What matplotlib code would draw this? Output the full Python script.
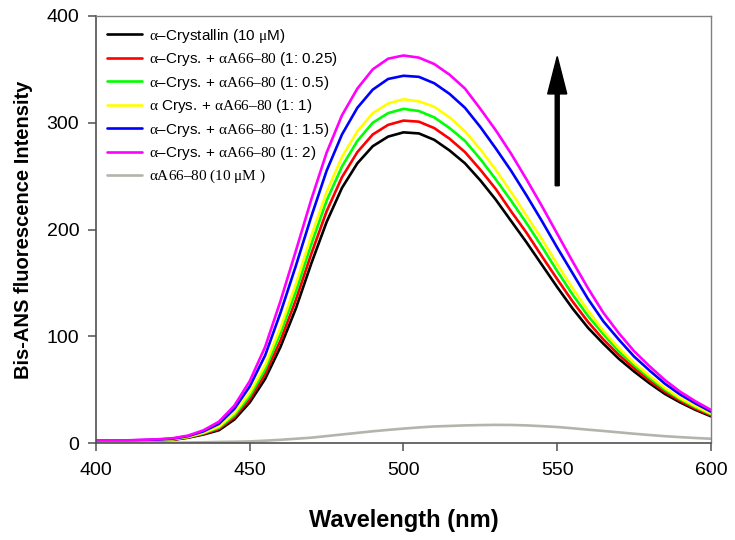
import matplotlib
matplotlib.use('Agg')
import matplotlib.pyplot as plt

plt.rcParams['font.family'] = ['Liberation Sans', 'DejaVu Sans']
plt.rcParams['mathtext.fontset'] = 'custom'
plt.rcParams['mathtext.rm'] = 'Liberation Serif'
plt.rcParams['mathtext.it'] = 'Liberation Serif:italic'

# wavelength grid (nm), read every 5 nm
wavelength = [400, 405, 410, 415, 420, 425, 430, 435, 440, 445,
              450, 455, 460, 465, 470, 475, 480, 485, 490, 495,
              500, 505, 510, 515, 520, 525, 530, 535, 540, 545,
              550, 555, 560, 565, 570, 575, 580, 585, 590, 595, 600]

crystallin = [2, 2, 2, 2, 2.5, 3, 5, 8, 12, 22,
              38, 60, 90, 126, 168, 207, 239, 262, 278, 287,
              291, 290, 284, 274, 262, 246, 228, 208, 188, 167,
              146, 126, 108, 93, 79, 67, 56, 46, 38, 31, 25]
ratio_025 = [2.1, 2.1, 2.1, 2.2, 2.7, 3.2, 5.3, 8.6, 13.2, 24,
             41, 64.5, 96, 134, 177, 217, 249, 272.5, 289, 298,
             302, 301, 295, 285, 272.5, 256, 238, 217, 197, 175,
             153.5, 132.6, 113.5, 97, 82.6, 70, 58.4, 48, 39.5, 32, 26]
ratio_05 = [2.2, 2.2, 2.2, 2.3, 2.8, 3.5, 5.6, 9.2, 14.4, 26,
            44, 69, 103, 142, 186, 227, 259, 283, 300, 309,
            313, 311, 305, 295, 283, 266, 247, 227, 206, 184,
            161, 139, 119, 102, 86, 73, 61, 50, 41, 33.4, 27]
ratio_1 = [2.2, 2.2, 2.2, 2.4, 2.9, 3.6, 5.9, 9.7, 15.4, 28,
           47, 73, 108, 149, 194, 235, 268, 292, 309, 318,
           322, 320, 315, 305, 292, 275, 256, 235, 213, 191,
           167.5, 145, 124, 105, 89, 75, 63, 51.6, 42, 34.4, 27.6]
ratio_15 = [2.4, 2.4, 2.4, 2.7, 3.2, 4.1, 6.5, 11, 18, 32,
            53, 82, 122, 166, 212, 255, 289, 314, 331, 341,
            344, 343, 337, 327, 314, 296, 276, 255, 232, 208,
            183, 159, 135, 114, 97, 81, 68, 55.6, 45.4, 37, 29.4]
ratio_2 = [2.5, 2.5, 2.5, 3, 3.5, 4.5, 7, 12, 20, 35,
           58, 90, 133, 180, 228, 272, 307, 332, 350, 360,
           363, 361, 355, 345, 332, 313, 293, 271, 247, 222,
           196, 170, 145, 122, 103, 86, 72, 59, 48, 39, 31]
peptide = [0, 0, 0, 0.1, 0.2, 0.3, 0.5, 0.7, 1, 1.2,
           1.5, 2.2, 3, 4, 5, 6.5, 8, 9.5, 11, 12.3,
           13.5, 14.6, 15.5, 16, 16.5, 16.8, 17, 16.9, 16.5, 15.8,
           15, 13.8, 12.5, 11.3, 10, 8.7, 7.5, 6.4, 5.5, 4.7, 4]

series = [crystallin, ratio_025, ratio_05, ratio_1, ratio_15, ratio_2, peptide]
labels = [
    r'$\mathrm{\alpha}$–Crystallin (10 $\mathrm{\mu}$M)',
    r'$\mathrm{\alpha}$–Crys. + $\mathrm{\alpha A66–80}$ (1: 0.25)',
    r'$\mathrm{\alpha}$–Crys. + $\mathrm{\alpha A66–80}$ (1: 0.5)',
    r'$\mathrm{\alpha}$ Crys. + $\mathrm{\alpha A66–80}$ (1: 1)',
    r'$\mathrm{\alpha}$–Crys. + $\mathrm{\alpha A66–80}$ (1: 1.5)',
    r'$\mathrm{\alpha}$–Crys. + $\mathrm{\alpha A66–80}$ (1: 2)',
    r'$\mathrm{\alpha A66–80\ (10\ \mu M\ )}$',
]
colors = ['#000000', '#ff0000', '#00ff00', '#ffff00', '#0000ff', '#ff00ff', '#b4b4ac']

# arrow showing increase of intensity
arrow_x = 550
arrow_y0, arrow_y1 = 241, 362

fig = plt.figure(figsize=(7.35, 5.4), dpi=100)
ax = fig.add_axes([0.1306, 0.1796, 0.8367, 0.7908])

for values, label, color in zip(series, labels, colors):
    ax.plot(wavelength, values, color=color, lw=1.9, label=label,
            solid_joinstyle='round', solid_capstyle='round')

ax.arrow(arrow_x, arrow_y0, 0, arrow_y1 - arrow_y0, width=1.3, head_width=6.2,
         head_length=35, length_includes_head=True, color='black')

ax.set_xlim(400, 600)
ax.set_ylim(0, 400)
ax.set_xticks([400, 450, 500, 550, 600])
ax.set_yticks([0, 100, 200, 300, 400])
ax.tick_params(axis='both', direction='out', length=6, width=1.1,
               color='#505050', labelsize=14)
ax.tick_params(axis='x', pad=8)
ax.tick_params(axis='y', pad=6)

for side in ['left', 'bottom']:
    ax.spines[side].set_color('#505050')
    ax.spines[side].set_linewidth(1.2)
for side in ['top', 'right']:
    ax.spines[side].set_color('#808080')
    ax.spines[side].set_linewidth(1.0)

ax.set_xlabel('Wavelength (nm)', fontsize=17, fontweight='bold', labelpad=21)
ax.set_ylabel('Bis-ANS fluorescence Intensity', fontsize=14.5, fontweight='bold', labelpad=10)

ax.legend(loc='upper left', frameon=False, fontsize=11, handlelength=2.3,
          handletextpad=0.5, labelspacing=0.36, borderaxespad=0.3, borderpad=0.4)

fig.savefig('out.png', dpi=100)
